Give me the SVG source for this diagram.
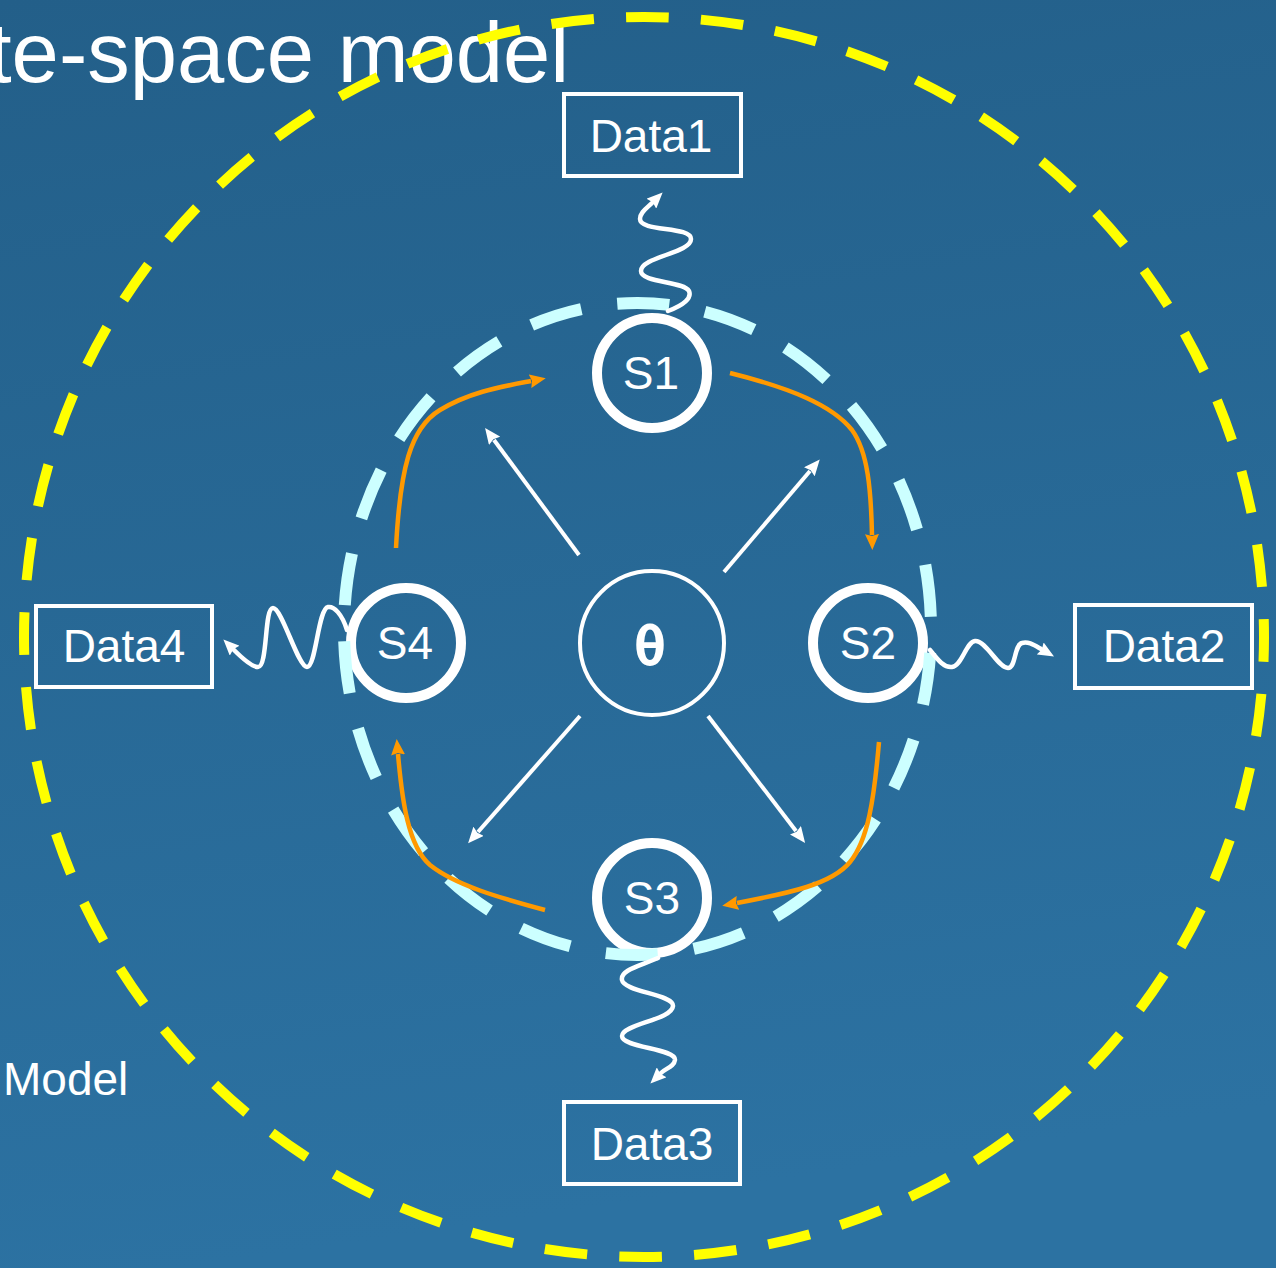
<svg xmlns="http://www.w3.org/2000/svg" width="1276" height="1268" viewBox="0 0 1276 1268">
  <defs>
    <linearGradient id="bg" x1="0" y1="0" x2="0.15" y2="1">
      <stop offset="0" stop-color="#235f89"/>
      <stop offset="1" stop-color="#2c72a2"/>
    </linearGradient>
    <marker id="head-orange" viewBox="0 0 16 14" markerWidth="16" markerHeight="14" refX="1" refY="7" orient="auto" markerUnits="userSpaceOnUse">
      <path d="M0,0 L16,7 L0,14 L2,7 z" fill="#ff9900"/>
    </marker>
    <marker id="head-white" viewBox="0 0 16 14" markerWidth="16" markerHeight="14" refX="1" refY="7" orient="auto" markerUnits="userSpaceOnUse">
      <path d="M0,0 L16,7 L0,14 L2,7 z" fill="#ffffff"/>
    </marker>
    <style>
      text { font-family: "Liberation Sans", Arial, sans-serif; fill: #ffffff; }
      .state circle { fill: none; stroke: #ffffff; stroke-width: 10; }
      .state text { font-size: 46px; text-anchor: middle; }
      .data rect { fill: none; stroke: #ffffff; stroke-width: 4; }
      .data text { font-size: 46px; text-anchor: middle; }
      .transition { fill: none; stroke: #ff9900; stroke-width: 4.5; marker-end: url(#head-orange); }
      .influence { fill: none; stroke: #ffffff; stroke-width: 4; marker-end: url(#head-white); }
      .emission { fill: none; stroke: #ffffff; stroke-width: 4.5; stroke-linecap: round; marker-end: url(#head-white); }
    </style>
  </defs>

  <rect width="1276" height="1268" fill="url(#bg)"/>

  <text x="-12" y="82" font-size="85">te-space model</text>
  <text x="3" y="1095" font-size="46">Model</text>

  <!-- outer model boundary -->
  <circle id="model-boundary" cx="644" cy="637" r="620" fill="none" stroke="#ffff00" stroke-width="10" pathLength="5200" stroke-dasharray="57 43" stroke-dashoffset="24"/>

  <!-- parameter node -->
  <g id="theta">
    <circle cx="652" cy="643" r="72" fill="none" stroke="#ffffff" stroke-width="4"/>
    <text x="650" y="665" font-size="54" font-weight="bold" text-anchor="middle" style="font-family:'DejaVu Sans Mono', monospace">θ</text>
  </g>

  <!-- hidden states -->
  <g id="S1" class="state"><circle cx="652" cy="373" r="55"/><text x="651" y="389">S1</text></g>
  <g id="S2" class="state"><circle cx="868" cy="643" r="55"/><text x="868" y="659">S2</text></g>
  <g id="S3" class="state"><circle cx="652" cy="898" r="55"/><text x="652" y="914">S3</text></g>
  <g id="S4" class="state"><circle cx="406" cy="643" r="55"/><text x="405" y="659">S4</text></g>

  <!-- observations -->
  <g id="Data1" class="data"><rect x="564" y="94" width="177" height="82"/><text x="651" y="152">Data1</text></g>
  <g id="Data2" class="data"><rect x="1075" y="605" width="177" height="83"/><text x="1164" y="662">Data2</text></g>
  <g id="Data3" class="data"><rect x="564" y="1102" width="176" height="82"/><text x="652" y="1160">Data3</text></g>
  <g id="Data4" class="data"><rect x="36" y="606" width="176" height="81"/><text x="124" y="662">Data4</text></g>

  <!-- state-chain ring -->
  <ellipse id="state-ring" cx="637.5" cy="629" rx="293.5" ry="326" fill="none" stroke="#ccffff" stroke-width="12" pathLength="2200" stroke-dasharray="59 41" stroke-dashoffset="73"/>

  <g id="connectors">
    <!-- transitions between states -->
    <path class="transition" d="M396,548 C400,470 410,428 440,410 C470,392 500,387 531,381"/>
    <path class="transition" d="M730,373 C790,388 832,405 852,430 C868,452 871,490 872,535"/>
    <path class="transition" d="M879,742 C874,800 868,840 850,862 C832,884 790,893 737,903"/>
    <path class="transition" d="M545,910 C500,898 455,885 430,865 C408,846 402,800 398,754"/>
    <!-- parameter to states -->
    <path class="influence" d="M579,555 L494,440"/>
    <path class="influence" d="M724,572 L810,471"/>
    <path class="influence" d="M580,716 L478,832"/>
    <path class="influence" d="M708,716 L796,831"/>
    <!-- emissions -->
    <path class="emission" d="M668,311 C684,305 692,298 689,291 C684,281 641,283 641,271 C641,257 691,253 691,239 C691,226 640,232 640,219 C640,212 647,208 652,203"/>
    <path class="emission" d="M930,650 C938,660 944,668 952,667 C962,666 966,642 975,641 C986,640 998,668 1008,668 C1016,668 1014,645 1022,643 C1028,641 1034,645 1041,649"/>
    <path class="emission" d="M658,958 C640,966 620,970 622,980 C624,992 674,994 673,1006 C672,1020 622,1024 622,1036 C622,1048 676,1048 675,1060 C674,1067 666,1068 661,1073"/>
    <path class="emission" d="M347,630 C342,614 334,606 328,607 C318,609 316,667 307,667 C298,667 282,608 273,608 C264,608 268,667 258,667 C252,667 244,660 234,650"/>
  </g>
</svg>
